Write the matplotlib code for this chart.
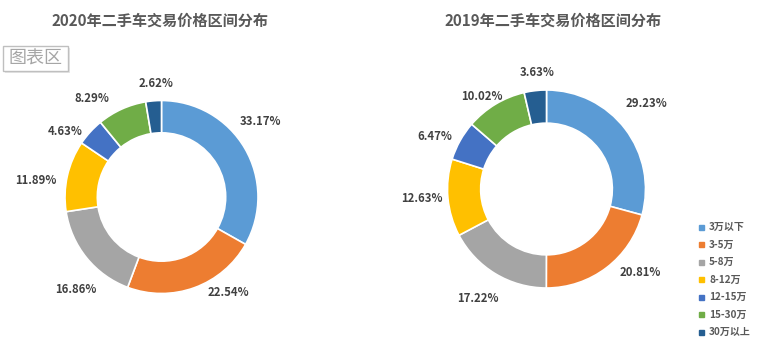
import numpy as np
import matplotlib.pyplot as plt

plt.rcParams['font.family'] = ['Noto Sans CJK SC', 'DejaVu Sans']

categories = ['3万以下', '3-5万', '5-8万', '8-12万', '12-15万', '15-30万', '30万以上']
share_2020 = [33.17, 22.54, 16.86, 11.89, 4.63, 8.29, 2.62]
share_2019 = [29.23, 20.81, 17.22, 12.63, 6.47, 10.02, 3.63]
colors = ['#5B9BD5', '#ED7D31', '#A5A5A5', '#FFC000', '#4472C4', '#70AD47', '#255E91']

# label placement tweaks (angle shift in degrees, radius factor), like Excel's best fit
nudge_2020 = [(7, 1.29), (15, 1.21), (8, 1.31), (5, 1.31), (8, 1.21), (11, 1.25), (-2, 1.18)]
nudge_2019 = [(3, 1.33), (11, 1.27), (-1, 1.31), (-1, 1.26), (4, 1.25), (4, 1.14), (-2, 1.18)]

W, H = 777, 351
fig = plt.figure(figsize=(W / 100, H / 100), dpi=100)
fig.patch.set_facecolor('white')


def donut(cx, cy, r, values, nudges, title, title_x):
    # cx, cy in pixels from top-left
    ax = fig.add_axes([(cx - r) / W, (H - cy - r) / H, 2 * r / W, 2 * r / H])
    wedges, _ = ax.pie(values, colors=colors, startangle=90, counterclock=False,
                       radius=1, wedgeprops=dict(width=0.335, edgecolor='white', linewidth=1.2))
    ax.set_xlim(-1, 1)
    ax.set_ylim(-1, 1)
    ax.set_aspect('equal')
    ax.axis('off')
    for w, v, (da, rf) in zip(wedges, values, nudges):
        ang = np.deg2rad((w.theta1 + w.theta2) / 2 + da)
        ax.text(rf * np.cos(ang), rf * np.sin(ang), f'{v:.2f}%', ha='center', va='center',
                fontsize=8.2, fontweight='bold', color='#404040', clip_on=False)
    fig.text(title_x / W, 1 - 21 / H, title, ha='center', va='center',
             fontsize=10.9, fontweight='bold', color='#595959')


donut(161.5, 197, 96.5, share_2020, nudge_2020, '2020年二手车交易价格区间分布', 160)
donut(546.5, 189, 99, share_2019, nudge_2019, '2019年二手车交易价格区间分布', 553)

# legend
for i, (c, lab) in enumerate(zip(colors, categories)):
    y = 1 - (227 + i * 17.5) / H
    fig.patches.append(plt.Rectangle((699 / W, y - 2.5 / H), 5 / W, 5 / H,
                                     transform=fig.transFigure, color=c))
    fig.text(709 / W, y, lab, ha='left', va='center', fontsize=7.2,
             fontweight='bold', color='#595959')

# "图表区" tooltip
fig.patches.append(plt.Rectangle((5 / W, 1 - 73 / H), 65 / W, 25 / H,
                                 transform=fig.transFigure, facecolor='#E6E6E6', edgecolor='none'))
fig.patches.append(plt.Rectangle((3 / W, 1 - 71 / H), 65 / W, 25 / H,
                                 transform=fig.transFigure, facecolor='white',
                                 edgecolor='#BFBFBF', linewidth=1))
fig.text(35.5 / W, 1 - 59 / H, '图表区', ha='center', va='center', fontsize=13,
         color='#A6A6A6')

fig.savefig('out.png', dpi=100)
